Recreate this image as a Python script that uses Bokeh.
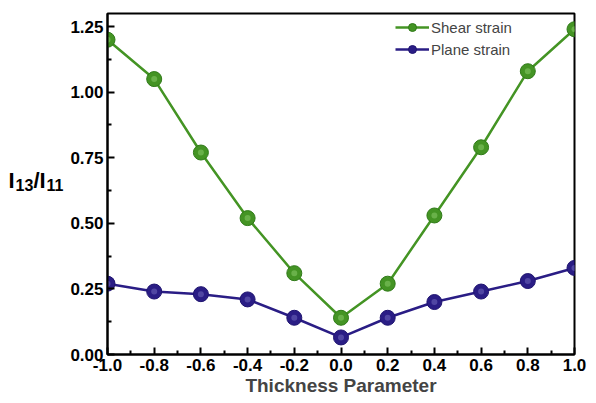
from bokeh.plotting import figure
from bokeh.layouts import row
from bokeh.models import FixedTicker, NumeralTickFormatter, Legend, LegendItem, Range1d
from bokeh.core.properties import value
from bokeh.embed import file_html
from bokeh.resources import INLINE

thickness = [-1.0, -0.8, -0.6, -0.4, -0.2, 0.0, 0.2, 0.4, 0.6, 0.8, 1.0]
shear_strain = [1.20, 1.05, 0.77, 0.52, 0.31, 0.14, 0.27, 0.53, 0.79, 1.08, 1.24]
plane_strain = [0.27, 0.24, 0.23, 0.21, 0.14, 0.065, 0.14, 0.20, 0.24, 0.28, 0.33]
x_ticks = [-1.0, -0.8, -0.6, -0.4, -0.2, 0.0, 0.2, 0.4, 0.6, 0.8, 1.0]
y_ticks = [0.0, 0.25, 0.5, 0.75, 1.0, 1.25]
y_label_parts = ["I", "13", "/I", "11"]

GREEN = "#449424"
BLUE = "#2a1d85"
FONT = "Liberation Sans"
LEFT_W = 64

p = figure(width=596 - LEFT_W, height=403, output_backend="svg", toolbar_location=None,
           x_range=Range1d(-1.0, 1.0), y_range=Range1d(0.0, 1.30),
           min_border_left=107 - LEFT_W, min_border_right=22, min_border_top=13, min_border_bottom=49)
p.xgrid.visible = False
p.ygrid.visible = False
p.outline_line_color = "black"
p.outline_line_width = 2
p.background_fill_color = "white"
p.border_fill_color = "white"

gl = p.line(thickness, shear_strain, line_color=GREEN, line_width=2.5)
gs = p.scatter(thickness, shear_strain, size=15, fill_color=GREEN, line_color="#2f7a18", line_width=1)
p.scatter(thickness, shear_strain, size=6, fill_color="#82c462", line_color=None, fill_alpha=0.6)
bl = p.line(thickness, plane_strain, line_color=BLUE, line_width=2.5)
bs = p.scatter(thickness, plane_strain, size=15, fill_color=BLUE, line_color="#1f1470", line_width=1)
p.scatter(thickness, plane_strain, size=6, fill_color="#6a62b8", line_color=None, fill_alpha=0.6)

minor_x = [round(-0.9 + 0.2 * i, 2) for i in range(10)]
minor_y = [0.125, 0.375, 0.625, 0.875, 1.125]

for ax, ticks, minors, fmt in ((p.xaxis, x_ticks, minor_x, "0.0"), (p.yaxis, y_ticks, minor_y, "0.00")):
    ax.ticker = FixedTicker(ticks=ticks, minor_ticks=minors)
    ax.formatter = NumeralTickFormatter(format=fmt)
    ax.axis_line_width = 2
    ax.major_tick_in = 7
    ax.major_tick_out = 0
    ax.minor_tick_in = 4
    ax.minor_tick_out = 0
    ax.major_tick_line_width = 2
    ax.minor_tick_line_width = 2
    ax.major_label_text_font = FONT
    ax.major_label_text_font_style = "bold"
    ax.major_label_text_font_size = "17px"
    ax.major_label_text_color = "black"

p.xaxis.major_label_standoff = 4
p.yaxis.major_label_standoff = 4
p.xaxis.axis_label = "Thickness Parameter"
p.xaxis.axis_label_text_font = FONT
p.xaxis.axis_label_text_font_style = "bold"
p.xaxis.axis_label_text_font_size = "19px"
p.xaxis.axis_label_standoff = 1

legend = Legend(items=[LegendItem(label="Shear strain", renderers=[gl, gs]),
                       LegendItem(label="Plane strain", renderers=[bl, bs])],
                location=(288, 295))
legend.border_line_color = None
legend.background_fill_alpha = 0
legend.label_text_font = FONT
legend.label_text_font_size = "15px"
legend.glyph_width = 34
legend.glyph_height = 20
legend.spacing = 2
legend.margin = 0
legend.padding = 2
legend.label_standoff = 2
legend.label_height = 20
p.add_layout(legend)

# narrow panel holding the y-axis title with real subscripts
lab = figure(width=LEFT_W, height=403, output_backend="svg", toolbar_location=None,
             x_range=Range1d(0, LEFT_W), y_range=Range1d(0, 403),
             x_axis_type=None, y_axis_type=None,
             min_border_left=0, min_border_right=0, min_border_top=0, min_border_bottom=0)
lab.xgrid.visible = False
lab.ygrid.visible = False
lab.outline_line_color = None
lab.background_fill_color = "white"
lab.border_fill_color = "white"
sizes = ["22px", "16px", "22px", "16px"]
xs = [8, 15, 33, 46]
ys = [206, 200, 206, 200]
lab.text(x=xs, y=ys, text=y_label_parts, text_font=value(FONT), text_font_style="bold",
         text_font_size=sizes, text_color="black", text_baseline="alphabetic", text_align="left")

layout = row(lab, p, spacing=0)
open("out.html", "w").write(file_html(layout, INLINE))
